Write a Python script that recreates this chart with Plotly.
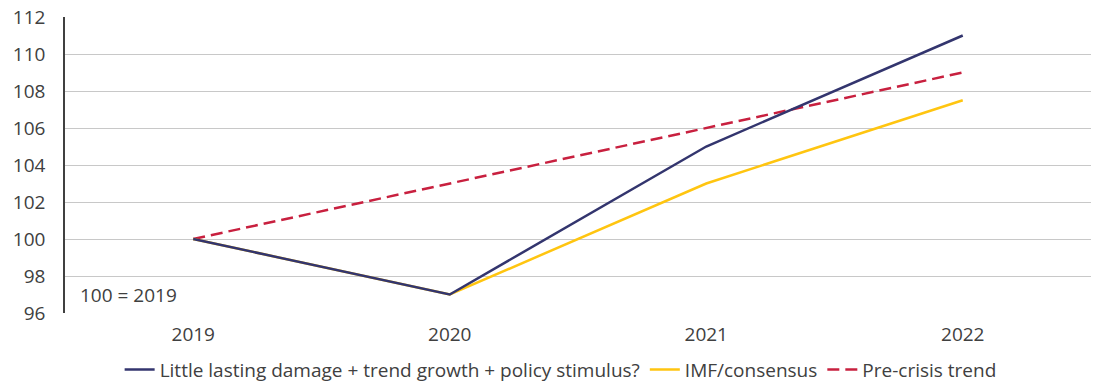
import plotly.graph_objects as go

years = ["2019", "2020", "2021", "2022"]
little_damage = [100, 97, 105, 111]
imf_consensus = [100, 97, 103, 107.5]
pre_crisis = [100, 103, 106, 109]

y_ticks = [96, 98, 100, 102, 104, 106, 108, 110, 112]

FONT = "Open Sans, Roboto, Arial, sans-serif"
TXT = "#404040"

fig = go.Figure()
fig.add_trace(go.Scatter(x=years, y=pre_crisis, mode="lines", name="Pre-crisis trend",
                         line=dict(color="#C8203F", width=2.5, dash="12px,6px"), legendrank=3))
fig.add_trace(go.Scatter(x=years, y=imf_consensus, mode="lines", name="IMF/consensus",
                         line=dict(color="#FFC510", width=2.5), legendrank=2))
fig.add_trace(go.Scatter(x=years, y=little_damage, mode="lines",
                         name="Little lasting damage + trend growth + policy stimulus?",
                         line=dict(color="#33356E", width=2.5), legendrank=1))

fig.add_annotation(x=0.013, y=97, xref="paper", yref="y", text="100 = 2019",
                   showarrow=False, xanchor="left", yanchor="middle",
                   font=dict(size=19, color=TXT, family=FONT))

fig.update_layout(
    width=1095, height=385,
    margin=dict(l=65, r=4, t=17, b=72, autoexpand=False),
    paper_bgcolor="white", plot_bgcolor="white",
    font=dict(family=FONT, size=19, color=TXT),
    showlegend=True,
    legend=dict(orientation="h", x=0.512, xref="container", xanchor="center",
                y=-0.127, yref="paper", yanchor="top",
                font=dict(size=19, color=TXT), traceorder="normal",
                itemwidth=30, tracegroupgap=0),
    xaxis=dict(type="category", range=[-0.5, 3.5], showgrid=False, showline=False,
               ticks="", tickfont=dict(size=19, color=TXT), automargin=False,
               ticklabelstandoff=8),
    yaxis=dict(range=[96, 112], tickvals=y_ticks, showgrid=True, gridcolor="#C8C8C8",
               gridwidth=1, zeroline=False, showline=True, linecolor="#404040", linewidth=1.5,
               ticks="", tickfont=dict(size=19, color=TXT), ticklabelstandoff=14,
               automargin=False),
)

fig.write_html("out.html")
